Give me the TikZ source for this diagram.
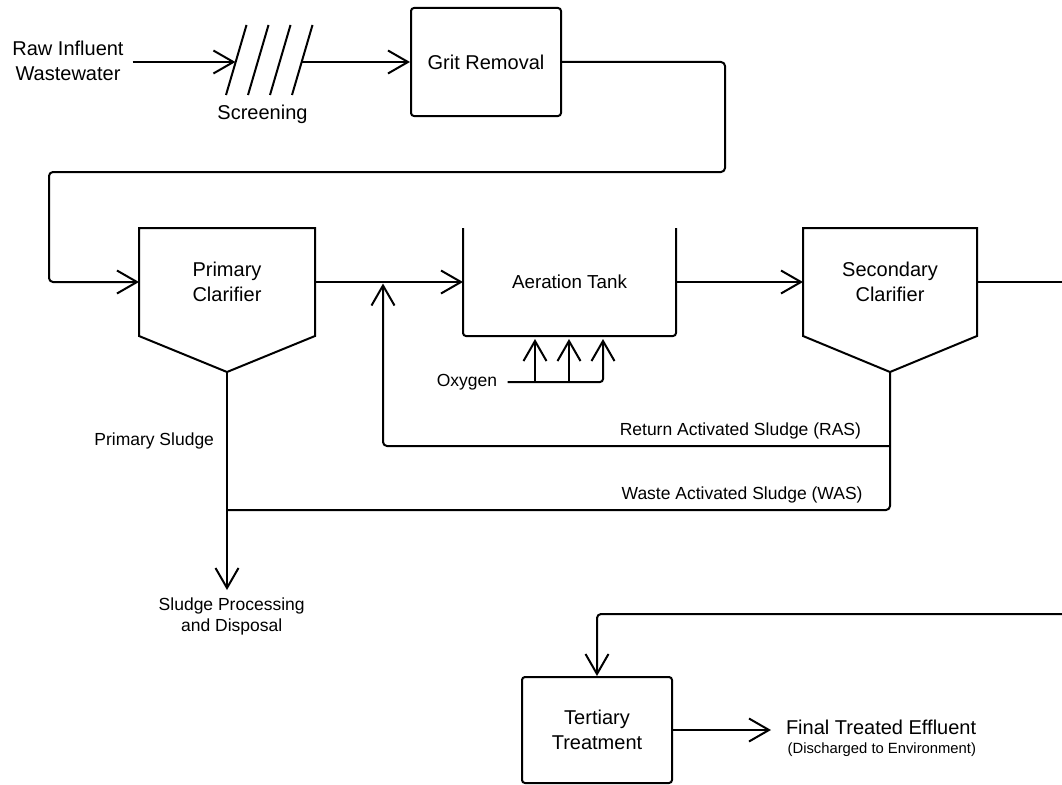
\documentclass[tikz,border=0pt]{standalone}
\usepackage{fontspec}
\setmainfont{Liberation Sans}
\usetikzlibrary{arrows.meta,calc}

\newcommand\mainsize{\fontsize{20}{24.5}\selectfont}
\newcommand\tanksize{\fontsize{18.8}{23}\selectfont}
\newcommand\notesize{\fontsize{17.5}{21}\selectfont}
\newcommand\finesize{\fontsize{14.8}{18}\selectfont}

\tikzset{
  flow/.style={-{Straight Barb[length=20pt,width=23pt]}},
  unit/.style={draw, rounded corners=3pt, minimum width=150pt, minimum height=106pt,
    inner sep=0pt, align=center, font=\mainsize},
  basin/.style={minimum width=172pt, minimum height=106pt, inner sep=0pt,
    align=center, font=\mainsize},
  note/.style={font=\notesize, inner sep=0pt},
}

\begin{document}
\begin{tikzpicture}[x=1pt, y=-1pt, line width=2pt, line join=round]
\useasboundingbox (0,0) rectangle (1062,784);

% ---------- preliminary treatment ----------
\node[font=\mainsize, align=center, inner xsep=8pt] (raw) at (68,61) {Raw Influent\\Wastewater};

% bar screen
\node[minimum width=86pt, minimum height=70pt, inner sep=0pt] (scr) at (269.5,60) {};
\foreach \dx in {0,22,44,66}
  \draw (226+\dx,95) -- (246.5+\dx,25);
\coordinate (scrIn) at (235.4,62);
\coordinate (scrOut) at (302,62);
\node[font=\mainsize] (scrlbl) at (262.5,114) {Screening};

\node[unit, minimum height=108pt] (grit) at (486,62) {Grit Removal};

\draw[flow] (raw.east |- scrIn) -- (scrIn);
\draw[flow] (scrOut) -- (grit.west);

% ---------- primary treatment ----------
\node[basin, minimum width=174pt] (pc) at (227,282) {Primary\\Clarifier};
\coordinate (pcv) at (227,372);
\draw[line join=miter] (pc.north west) -- (pc.south west) -- (pcv) -- (pc.south east) -- (pc.north east) -- cycle;

\coordinate (gA) at (725,172);
\coordinate (gB) at (49,172);
\draw[flow, rounded corners=4pt] (grit.east) -| (gA) -- (gB) |- (pc.west);

% ---------- secondary treatment ----------
\node[minimum width=211pt, minimum height=106pt, inner sep=0pt, font=\tanksize] (at) at (569.5,282) {Aeration Tank};
\draw[rounded corners=3pt] (at.north west) -- (at.south west) -- (at.south east) -- (at.north east);

\node[basin] (sc) at (890,282) {Secondary\\Clarifier};
\coordinate (scv) at (890,372);
\draw[line join=miter] (sc.north west) -- (sc.south west) -- (scv) -- (sc.south east) -- (sc.north east) -- cycle;

\draw[flow] (pc.east) -- (at.west);
\draw[flow] (at.east) -- (sc.west);

% aeration air supply
\node[font=\notesize, inner xsep=9.5pt, inner ysep=0pt] (oxy) at (467,382) {Oxygen};
\coordinate (o1) at (535,382);
\coordinate (o2) at (569,382);
\coordinate (t1) at (535,339);
\coordinate (t2) at (569,339);
\coordinate (t3) at (603,339);
\draw[flow, rounded corners=3pt] (oxy.east) -| (t3);
\draw[flow] (o1) -- (t1);
\draw[flow] (o2) -- (t2);

% ---------- sludge lines ----------
\coordinate (rasJ) at (890,446);
\coordinate (rasTip) at (383,283.5);
\draw[flow, rounded corners=4pt] (rasJ) -| (rasTip);

\coordinate (wasJ) at (890,510);
\coordinate (psJ) at (227,510);
\draw[rounded corners=4pt] (scv) -- (wasJ) -- (psJ);

\node[font=\notesize, align=center] (disp) at (231.7,616.5) {Sludge Processing\\and Disposal};
\coordinate (dispTip) at (227,590);
\draw[flow] (pcv) -- (dispTip);

\node[note, anchor=east] (pslbl) at (215,441) {Primary Sludge};
\node[note, anchor=east] (raslbl) at (862,430.5) {Return Activated Sludge (RAS)};
\node[note, anchor=east] (waslbl) at (863.5,494.5) {Waste Activated Sludge (WAS)};

% ---------- tertiary treatment ----------
\coordinate (edgeR1) at (1062,282);
\draw (sc.east) -- (edgeR1);

\node[unit] (tt) at (597,730) {Tertiary\\Treatment};
\coordinate (edgeR2) at (1062,614);
\draw[flow, rounded corners=4pt] (edgeR2) -| (tt.north);

\node[font=\mainsize, anchor=base west, inner sep=0pt] (eff) at (785,734) {Final Treated Effluent};
\node[font=\finesize, anchor=base east, inner sep=0pt] (effnote) at (977,753) {(Discharged to Environment)};
\coordinate (effTip) at (771,730);
\draw[flow] (tt.east) -- (effTip);
\end{tikzpicture}
\end{document}
